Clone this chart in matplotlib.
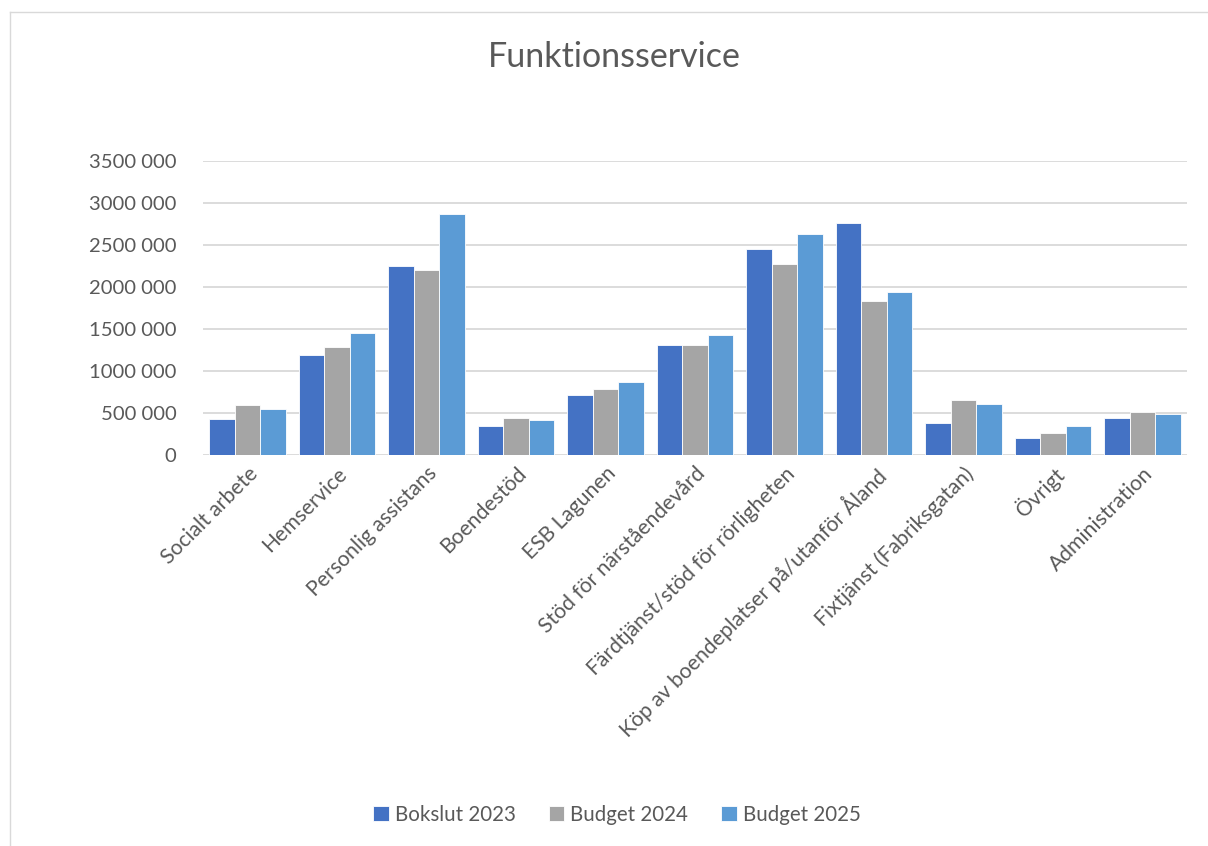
import matplotlib
matplotlib.use("Agg")
import matplotlib.pyplot as plt
import numpy as np

categories = ["Socialt arbete", "Hemservice", "Personlig assistans", "Boendestöd",
              "ESB Lagunen", "Stöd för närståendevård", "Färdtjänst/stöd för rörligheten",
              "Köp av boendeplatser på/utanför Åland", "Fixtjänst (Fabriksgatan)",
              "Övrigt", "Administration"]
bokslut_2023 = [430000, 1190000, 2245000, 340000, 715000, 1305000, 2450000, 2765000, 380000, 205000, 445000]
budget_2024 = [590000, 1285000, 2200000, 440000, 785000, 1305000, 2275000, 1830000, 655000, 262000, 515000]
budget_2025 = [550000, 1445000, 2870000, 418000, 870000, 1430000, 2630000, 1940000, 605000, 342000, 492000]
series_names = ["Bokslut 2023", "Budget 2024", "Budget 2025"]
yticks = [0, 500000, 1000000, 1500000, 2000000, 2500000, 3000000, 3500000]
ytick_labels = ["0", "500 000", "1000 000", "1500 000", "2000 000", "2500 000", "3000 000", "3500 000"]

colors = ["#4472C4", "#A5A5A5", "#5B9BD5"]
txt = "#595959"
plt.rcParams['font.family'] = ['Lato', 'DejaVu Sans']

fig = plt.figure(figsize=(12.08, 8.46), dpi=100)
# chart border
fig.add_artist(plt.Line2D([10/1208, 1.0], [1-12/846, 1-12/846], color="#d9d9d9", lw=1))
fig.add_artist(plt.Line2D([10/1208, 10/1208], [1-12/846, 0], color="#d9d9d9", lw=1))

ax = fig.add_axes([203/1208, 1-455/846, (1187-203)/1208, (455-160.7)/846])
x = np.arange(len(categories))
w = 0.285
for i, (vals, name) in enumerate(zip([bokslut_2023, budget_2024, budget_2025], series_names)):
    ax.bar(x + (i-1)*w, vals, width=w, color=colors[i], edgecolor="white", linewidth=0.6,
           label=name, zorder=3)

ax.set_xlim(-0.5, len(categories)-0.5)
ax.set_ylim(0, 3500000)
ax.set_yticks(yticks)
ax.set_yticklabels(ytick_labels, fontsize=14.6, color=txt)
ax.yaxis.grid(True, color="#d9d9d9", lw=1.3, zorder=0)
for s in ax.spines.values():
    s.set_visible(False)
ax.tick_params(axis='y', length=0, pad=19)
ax.tick_params(axis='x', length=0, pad=6)
ax.set_xticks(x)
ax.set_xticklabels(categories, rotation=45, ha='right', rotation_mode='anchor',
                   fontsize=15.2, color=txt)

fig.text(614/1208, 1-57/846, "Funktionsservice", ha='center', va='center', fontsize=24.5, color=txt)

handles, labels = ax.get_legend_handles_labels()
fig.legend(handles, labels, loc='center', bbox_to_anchor=(617/1208, 1-815/846), ncol=3,
           frameon=False, fontsize=14.8, labelcolor=txt, handlelength=0.75, handleheight=0.75,
           handletextpad=0.3, columnspacing=1.6)

fig.savefig("out.png", dpi=100)
